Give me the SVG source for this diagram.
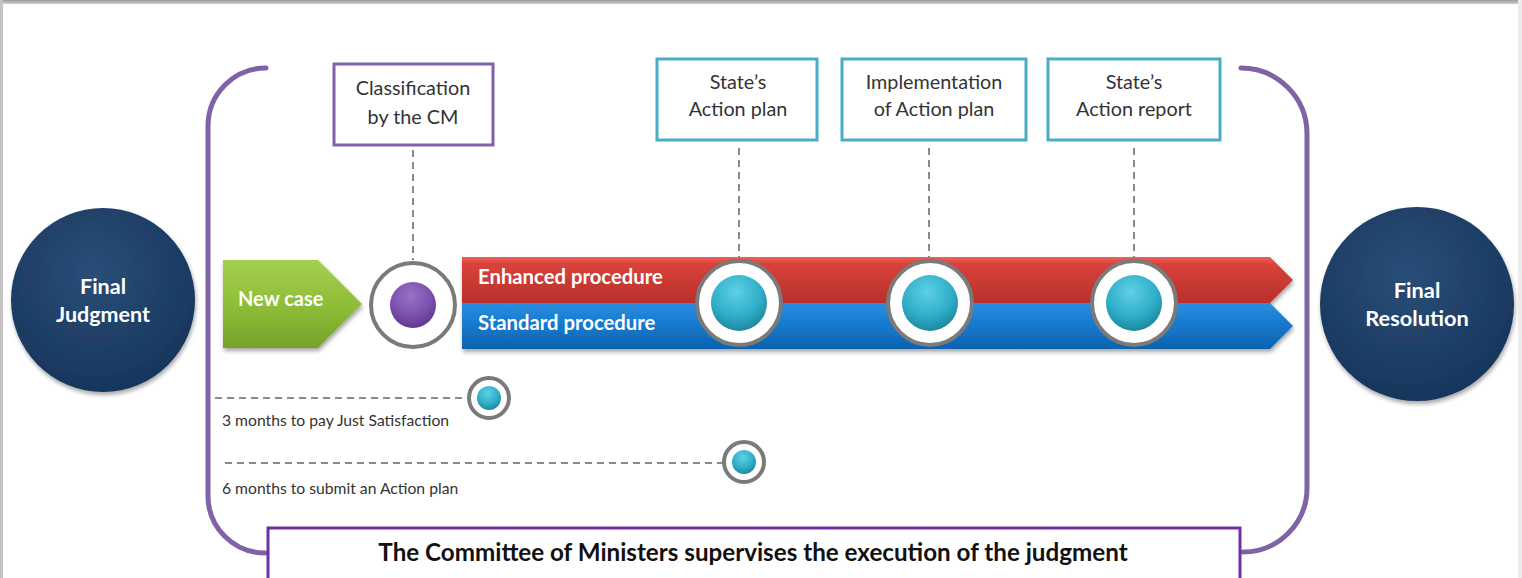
<svg xmlns="http://www.w3.org/2000/svg" width="1522" height="578" viewBox="0 0 1522 578">
<defs>
<style>
.bracket{fill:none;stroke:#8063a6;stroke-width:5;stroke-linecap:round}
.dash{stroke:#8a8a8a;stroke-width:2;stroke-dasharray:7 5;fill:none}
.boxc{fill:#fff;stroke:#4bacc6;stroke-width:3}
.boxp{fill:#fff;stroke:#7f62a8;stroke-width:3}
.lbl{font-family:Lato,"Liberation Sans",sans-serif;font-size:19.8px;fill:#333;text-anchor:middle}
.wb{font-family:Lato,"Liberation Sans",sans-serif;font-weight:bold;fill:#fff}
.cap{font-family:Lato,"Liberation Sans",sans-serif;font-size:15.7px;fill:#333}
.ring{fill:#fff;stroke:#7a7a7a;stroke-width:4}
</style>
<radialGradient id="navy" cx="0.45" cy="0.35" r="0.7">
<stop offset="0" stop-color="#2a4e78"/><stop offset="1" stop-color="#16345a"/>
</radialGradient>
<linearGradient id="green" x1="0" y1="0" x2="0" y2="1">
<stop offset="0" stop-color="#a6cf4f"/><stop offset="0.5" stop-color="#8fbe38"/><stop offset="1" stop-color="#76a22c"/>
</linearGradient>
<linearGradient id="red" x1="0" y1="0" x2="0" y2="1">
<stop offset="0" stop-color="#f0605a"/><stop offset="0.15" stop-color="#d9423b"/><stop offset="1" stop-color="#b8302b"/>
</linearGradient>
<linearGradient id="blue" x1="0" y1="0" x2="0" y2="1">
<stop offset="0" stop-color="#2a8ee0"/><stop offset="0.5" stop-color="#1478cc"/><stop offset="1" stop-color="#0f62ad"/>
</linearGradient>
<radialGradient id="cyan" cx="0.45" cy="0.3" r="0.75">
<stop offset="0" stop-color="#5fd0e6"/><stop offset="0.6" stop-color="#2fadc8"/><stop offset="1" stop-color="#1b7f96"/>
</radialGradient>
<radialGradient id="purp" cx="0.45" cy="0.3" r="0.75">
<stop offset="0" stop-color="#9a72c6"/><stop offset="0.6" stop-color="#7a4fae"/><stop offset="1" stop-color="#5a3388"/>
</radialGradient>
<linearGradient id="topbar" x1="0" y1="0" x2="0" y2="1">
<stop offset="0" stop-color="#9a9a9a"/><stop offset="1" stop-color="#d0d0d0"/>
</linearGradient>
<filter id="sh" x="-5%" y="-20%" width="110%" height="150%">
<feGaussianBlur in="SourceAlpha" stdDeviation="2"/><feOffset dx="1" dy="3" result="b"/>
<feComponentTransfer><feFuncA type="linear" slope="0.35"/></feComponentTransfer>
<feMerge><feMergeNode/><feMergeNode in="SourceGraphic"/></feMerge>
</filter>
</defs>
<rect x="0" y="0" width="1522" height="578" fill="#fff"/>
<rect x="0" y="0" width="1522" height="4" fill="url(#topbar)"/>
<rect x="0" y="0" width="3" height="578" fill="#c4c4c4"/>
<rect x="1518" y="0" width="4" height="578" fill="#ececec"/>

<g id="brackets">
<path class="bracket" d="M 266 68 A 58 58 0 0 0 208 126 L 208 496 A 57 57 0 0 0 265 553"/>
<path class="bracket" d="M 1241 68 A 66 66 0 0 1 1307 134 L 1307 488 A 64 64 0 0 1 1243 552"/>
</g>

<g id="connectors">
<line class="dash" x1="413" y1="150" x2="413" y2="260"/>
<line class="dash" x1="739" y1="148" x2="739" y2="258"/>
<line class="dash" x1="929" y1="148" x2="929" y2="258"/>
<line class="dash" x1="1134" y1="148" x2="1134" y2="258"/>
<line class="dash" x1="215" y1="398" x2="468" y2="398"/>
<line class="dash" x1="225" y1="463" x2="722" y2="463"/>
</g>

<g id="final-judgment">
<circle cx="103" cy="300" r="92" fill="url(#navy)" filter="url(#sh)"/>
<text class="wb" x="103" y="294" font-size="21.5" text-anchor="middle">Final</text>
<text class="wb" x="103" y="322" font-size="21.5" text-anchor="middle">Judgment</text>
</g>

<g id="final-resolution">
<circle cx="1417" cy="304" r="97" fill="url(#navy)" filter="url(#sh)"/>
<text class="wb" x="1417" y="298" font-size="21.8" text-anchor="middle">Final</text>
<text class="wb" x="1417" y="326" font-size="21.8" text-anchor="middle">Resolution</text>
</g>

<g id="new-case">
<path d="M 223 260 L 318 260 L 362 304 L 318 348 L 223 348 Z" fill="url(#green)" filter="url(#sh)"/>
<text class="wb" x="238" y="306" font-size="20">New case</text>
</g>

<g id="enhanced-procedure">
<path d="M 462 257 L 1270 257 L 1293 280 L 1270 303 L 462 303 Z" fill="url(#red)" filter="url(#sh)"/>
<text class="wb" x="478" y="284" font-size="20.3">Enhanced procedure</text>
</g>

<g id="standard-procedure">
<path d="M 462 303 L 1270 303 L 1293 326 L 1270 349 L 462 349 Z" fill="url(#blue)" filter="url(#sh)"/>
<text class="wb" x="478" y="330" font-size="20.3">Standard procedure</text>
</g>

<g id="classification">
<rect class="boxp" x="334" y="64" width="159" height="81"/>
<text class="lbl" x="413" y="95">Classification</text>
<text class="lbl" x="413" y="124">by the CM</text>
</g>

<g id="states-action-plan">
<rect class="boxc" x="657" y="59" width="160" height="81"/>
<text class="lbl" x="738" y="89">State’s</text>
<text class="lbl" x="738" y="116">Action plan</text>
</g>

<g id="implementation">
<rect class="boxc" x="842" y="59" width="184" height="81"/>
<text class="lbl" x="934" y="89">Implementation</text>
<text class="lbl" x="934" y="116">of Action plan</text>
</g>

<g id="states-action-report">
<rect class="boxc" x="1048" y="59" width="172" height="81"/>
<text class="lbl" x="1134" y="89">State’s</text>
<text class="lbl" x="1134" y="116">Action report</text>
</g>

<g id="milestone-classification">
<circle class="ring" cx="413" cy="305" r="42"/>
<circle cx="413" cy="305" r="23" fill="url(#purp)"/>
</g>
<g id="milestone-plan">
<circle class="ring" cx="739" cy="303" r="42"/>
<circle cx="739" cy="303" r="28" fill="url(#cyan)"/>
</g>
<g id="milestone-implementation">
<circle class="ring" cx="930" cy="303" r="42"/>
<circle cx="930" cy="303" r="28" fill="url(#cyan)"/>
</g>
<g id="milestone-report">
<circle class="ring" cx="1134" cy="303" r="42"/>
<circle cx="1134" cy="303" r="28" fill="url(#cyan)"/>
</g>

<g id="three-months">
<circle class="ring" cx="489" cy="398" r="20" stroke-width="3"/>
<circle cx="489" cy="398" r="12" fill="url(#cyan)"/>
<text class="cap" x="222" y="426">3 months to pay Just Satisfaction</text>
</g>

<g id="six-months">
<circle class="ring" cx="744" cy="462" r="20" stroke-width="3"/>
<circle cx="744" cy="462" r="12" fill="url(#cyan)"/>
<text class="cap" x="222" y="494">6 months to submit an Action plan</text>
</g>

<g id="committee">
<rect x="268" y="528" width="972" height="56" fill="#fff" stroke="#7030a0" stroke-width="3"/>
<text x="753" y="561" font-family="Lato,'Liberation Sans',sans-serif" font-weight="bold" font-size="24.2" fill="#111" text-anchor="middle">The Committee of Ministers supervises the execution of the judgment</text>
</g>
</svg>
